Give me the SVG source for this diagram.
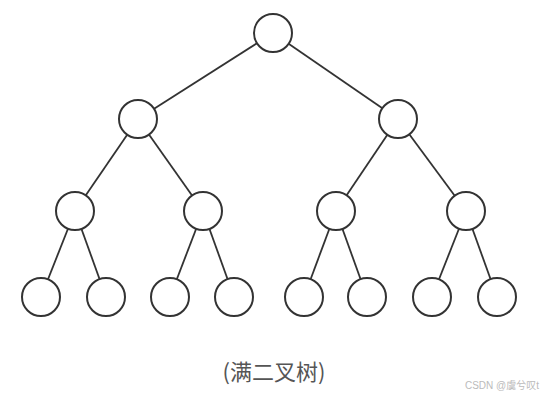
<svg xmlns="http://www.w3.org/2000/svg" width="545" height="401" viewBox="0 0 545 401">
<style>
.n{fill:#fff;stroke:#333;stroke-width:2}
.e{stroke:#333;stroke-width:1.8}
.cap{font-family:"Noto Sans CJK SC","Liberation Sans",sans-serif;font-size:22px;fill:#555;text-anchor:middle}
.wm{font-family:"Liberation Sans","Noto Sans CJK SC",sans-serif;font-size:10px;fill:#bbb;text-anchor:end}
</style>
<rect width="545" height="401" fill="#fff"/>
<g id="edges">
<line class="e" x1="273" y1="33" x2="138" y2="119"/>
<line class="e" x1="273" y1="33" x2="398" y2="119"/>
<line class="e" x1="138" y1="119" x2="75" y2="211"/>
<line class="e" x1="138" y1="119" x2="203" y2="211"/>
<line class="e" x1="398" y1="119" x2="336" y2="211"/>
<line class="e" x1="398" y1="119" x2="466" y2="211"/>
<line class="e" x1="75" y1="211" x2="41" y2="297"/>
<line class="e" x1="75" y1="211" x2="106" y2="297"/>
<line class="e" x1="203" y1="211" x2="170" y2="297"/>
<line class="e" x1="203" y1="211" x2="234" y2="297"/>
<line class="e" x1="336" y1="211" x2="304" y2="297"/>
<line class="e" x1="336" y1="211" x2="367" y2="297"/>
<line class="e" x1="466" y1="211" x2="432" y2="297"/>
<line class="e" x1="466" y1="211" x2="497" y2="297"/>
</g>
<g id="n1"><circle class="n" cx="273" cy="33" r="19"/></g>
<g id="n2"><circle class="n" cx="138" cy="119" r="19"/></g>
<g id="n3"><circle class="n" cx="398" cy="119" r="19"/></g>
<g id="n4"><circle class="n" cx="75" cy="211" r="19"/></g>
<g id="n5"><circle class="n" cx="203" cy="211" r="19"/></g>
<g id="n6"><circle class="n" cx="336" cy="211" r="19"/></g>
<g id="n7"><circle class="n" cx="466" cy="211" r="19"/></g>
<g id="n8"><circle class="n" cx="41" cy="297" r="19"/></g>
<g id="n9"><circle class="n" cx="106" cy="297" r="19"/></g>
<g id="n10"><circle class="n" cx="170" cy="297" r="19"/></g>
<g id="n11"><circle class="n" cx="234" cy="297" r="19"/></g>
<g id="n12"><circle class="n" cx="304" cy="297" r="19"/></g>
<g id="n13"><circle class="n" cx="367" cy="297" r="19"/></g>
<g id="n14"><circle class="n" cx="432" cy="297" r="19"/></g>
<g id="n15"><circle class="n" cx="497" cy="297" r="19"/></g>
<text class="cap" x="274" y="380">(满二叉树)</text>
<text class="wm" x="539" y="389">CSDN @虞兮叹t</text>
</svg>
